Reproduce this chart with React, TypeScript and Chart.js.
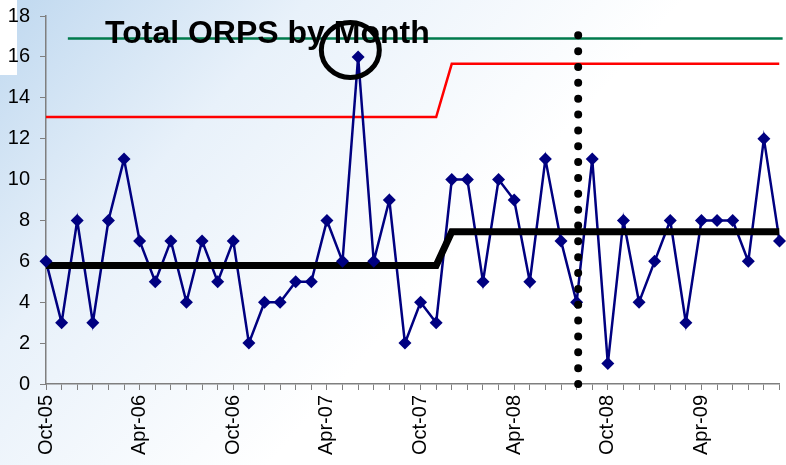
import React, { useEffect, useRef } from "react";
import { Chart, registerables } from "chart.js";

Chart.register(...registerables);

// Monthly totals, Oct-05 .. Sep-09
const orps = [
  6, 3, 8, 3, 8, 11, 7, 5, 7, 4, 7, 5,
  7, 2, 4, 4, 5, 5, 8, 6, 16, 6, 9, 2,
  4, 3, 10, 10, 5, 10, 9, 5, 11, 7, 4, 11,
  1, 8, 4, 6, 8, 3, 8, 8, 8, 6, 12, 7,
];
const tickLabels = ["Oct-05", "Apr-06", "Oct-06", "Apr-07", "Oct-07", "Apr-08", "Oct-08", "Apr-09"];
const meanLine = [
  { x: 0, y: 5.8 },
  { x: 25, y: 5.8 },
  { x: 26, y: 7.45 },
  { x: 47, y: 7.45 },
];
const uclLine = [
  { x: 0, y: 13.06 },
  { x: 25, y: 13.06 },
  { x: 26, y: 15.66 },
  { x: 47, y: 15.66 },
];
const targetLine = [
  { x: 1.4, y: 16.9 },
  { x: 47.2, y: 16.9 },
];
const dividerLine = [
  { x: 34.1, y: 0 },
  { x: 34.1, y: 17.1 },
];
const highlight = { x: 19.5, y: 16.34 };
const titleText = "Total ORPS by Month";

const FONT = "'Liberation Sans', Arial, sans-serif";

const bgPlugin = {
  id: "bg",
  beforeDraw(chart: any) {
    const { ctx, width, height } = chart;
    ctx.save();
    const g = ctx.createLinearGradient(0, 0, 380, 340);
    g.addColorStop(0, "#bfd8ef");
    g.addColorStop(0.45, "#e8f1fa");
    g.addColorStop(1, "#ffffff");
    ctx.fillStyle = g;
    ctx.fillRect(0, 0, width, height);
    ctx.fillStyle = "#ffffff";
    ctx.fillRect(0, 0, 17, 75);
    ctx.restore();
  },
};

const overlayPlugin = {
  id: "overlay",
  afterDatasetsDraw(chart: any) {
    const { ctx, scales } = chart;
    ctx.save();
    ctx.fillStyle = "#000000";
    ctx.font = `bold 32px ${FONT}`;
    ctx.textAlign = "left";
    ctx.textBaseline = "alphabetic";
    ctx.fillText(titleText, 105, 43);
    const cx = scales.x.getPixelForValue(highlight.x);
    const cy = scales.y.getPixelForValue(highlight.y);
    ctx.beginPath();
    ctx.ellipse(cx, cy, 29, 27.5, 0, 0, Math.PI * 2);
    ctx.lineWidth = 5;
    ctx.strokeStyle = "#000000";
    ctx.stroke();
    ctx.restore();
  },
};

export default function App() {
  const ref = useRef<HTMLCanvasElement>(null);
  useEffect(() => {
    if (!ref.current) return;
    const data = orps.map((v, i) => ({ x: i, y: v }));
    const chart = new Chart(ref.current, {
      type: "line",
      data: {
        datasets: [
          {
            label: "target",
            data: targetLine,
            borderColor: "#007a4c",
            borderWidth: 2.5,
            pointRadius: 0,
            clip: false as any,
            order: 6,
          },
          {
            label: "ucl",
            data: uclLine,
            borderColor: "#ff0000",
            borderWidth: 2.5,
            pointRadius: 0,
            order: 5,
          },
          {
            label: "orps-line",
            data,
            borderColor: "#000080",
            borderWidth: 2.5,
            pointRadius: 0,
            order: 4,
          },
          {
            label: "mean",
            data: meanLine,
            borderColor: "#000000",
            borderWidth: 7,
            pointRadius: 0,
            order: 3,
          },
          {
            label: "orps-points",
            data,
            showLine: false,
            pointStyle: "rectRot",
            pointRadius: 6.5,
            pointBackgroundColor: "#000080",
            pointBorderColor: "#000080",
            pointBorderWidth: 0,
            clip: false as any,
            order: 2,
          },
          {
            label: "divider",
            data: dividerLine,
            borderColor: "#000000",
            borderWidth: 8,
            borderDash: [0, 15.85],
            borderCapStyle: "round",
            pointRadius: 0,
            clip: false as any,
            order: 1,
          },
        ],
      },
      options: {
        animation: false,
        responsive: false,
        maintainAspectRatio: false,
        layout: { padding: { top: 16, right: 3, left: 0, bottom: 0 } },
        plugins: {
          legend: { display: false },
          tooltip: { enabled: false },
          title: { display: false },
        },
        scales: {
          x: {
            type: "linear",
            min: 0,
            max: 47,
            afterFit(scale: any) {
              scale.height = 81;
              scale.paddingLeft = 0;
              scale.paddingRight = 0;
            },
            grid: {
              drawOnChartArea: false,
              drawTicks: true,
              tickLength: 6,
              color: "#7f7f7f",
            },
            border: { color: "#7f7f7f", width: 1.5 },
            ticks: {
              stepSize: 1,
              autoSkip: false,
              minRotation: 90,
              maxRotation: 90,
              padding: 5,
              color: "#000000",
              font: { family: FONT, size: 20 },
              callback: (v: any) => (Number(v) % 6 === 0 ? tickLabels[Number(v) / 6] : ""),
            },
          },
          y: {
            min: 0,
            max: 18,
            afterFit(scale: any) {
              scale.width = 46;
              scale.paddingTop = 0;
              scale.paddingBottom = 0;
            },
            grid: {
              drawOnChartArea: false,
              drawTicks: true,
              tickLength: 6,
              color: "#7f7f7f",
            },
            border: { color: "#7f7f7f", width: 1.5 },
            ticks: {
              stepSize: 2,
              padding: 10,
              color: "#000000",
              font: { family: FONT, size: 20 },
            },
          },
        },
      },
      plugins: [bgPlugin, overlayPlugin],
    });
    return () => chart.destroy();
  }, []);
  return (
    <div style={{ position: "fixed", left: 0, top: 0, width: 786, height: 465 }}>
      <canvas ref={ref} width={786} height={465} style={{ width: 786, height: 465 }} />
    </div>
  );
}
